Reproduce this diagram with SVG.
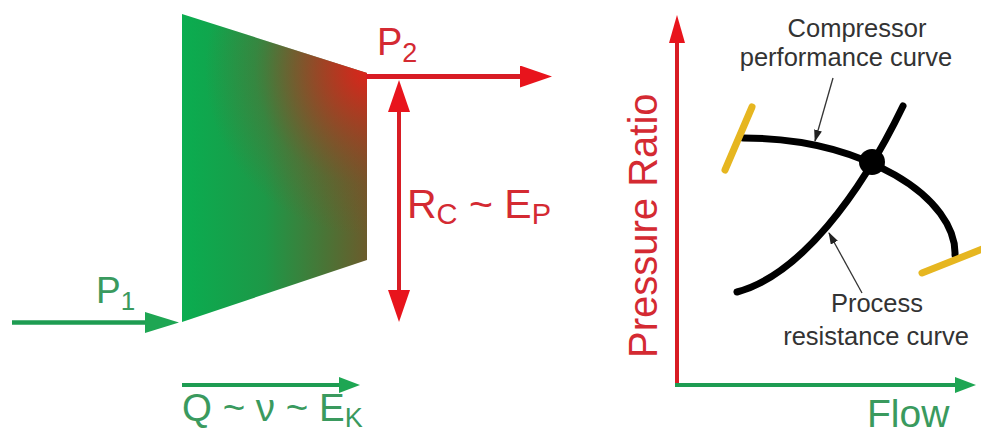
<svg xmlns="http://www.w3.org/2000/svg" width="981" height="434" viewBox="0 0 981 434">
<style>
.lbl{font-family:"Liberation Sans",Arial,sans-serif}
.g{fill:#3a9a5e}
.r{fill:#d42a32}
.k{fill:#333333;font-size:25.5px}
.gl{stroke:#1e9c52;fill:none}
.rl{stroke:#d81c24;fill:none}
.curve{stroke:#000;stroke-width:7;fill:none;stroke-linecap:round}
.ybar{stroke:#e6b620;stroke-width:7;stroke-linecap:round}
.lead{stroke:#333;stroke-width:1.3;fill:none}
</style>
<defs>
<linearGradient id="gbase" gradientUnits="userSpaceOnUse" x1="182" y1="0" x2="366" y2="0">
<stop offset="0" stop-color="#0aad50"/>
<stop offset="0.45" stop-color="#1d9847"/>
<stop offset="0.78" stop-color="#4a7436"/>
<stop offset="1" stop-color="#6a5c2c"/>
</linearGradient>
<radialGradient id="gred" gradientUnits="userSpaceOnUse" cx="370" cy="70" r="165">
<stop offset="0" stop-color="#e0221a" stop-opacity="1"/>
<stop offset="0.3" stop-color="#c0301e" stop-opacity="0.7"/>
<stop offset="0.7" stop-color="#a03a22" stop-opacity="0.2"/>
<stop offset="1" stop-color="#a03a22" stop-opacity="0"/>
</radialGradient>
<marker id="agL" viewBox="0 0 34 21" refX="24" refY="10.5" markerWidth="34" markerHeight="21" markerUnits="userSpaceOnUse" orient="auto"><path d="M0,0 L34,10.5 L0,21 z" fill="#1ea653"/></marker>
<marker id="agS" viewBox="0 0 21 16" refX="13" refY="8" markerWidth="21" markerHeight="16" markerUnits="userSpaceOnUse" orient="auto"><path d="M0,0 L21,8 L0,16 z" fill="#1ea653"/></marker>
<marker id="arL" viewBox="0 0 32 22" refX="22" refY="11" markerWidth="32" markerHeight="22" markerUnits="userSpaceOnUse" orient="auto-start-reverse"><path d="M0,0 L32,11 L0,22 z" fill="#e8141c"/></marker>
<marker id="arY" viewBox="0 0 28 16" refX="18" refY="8" markerWidth="28" markerHeight="16" markerUnits="userSpaceOnUse" orient="auto"><path d="M0,0 L28,8 L0,16 z" fill="#e8141c"/></marker>
<marker id="ak" viewBox="0 0 12 8" refX="11" refY="4" markerWidth="12" markerHeight="8" markerUnits="userSpaceOnUse" orient="auto"><path d="M0,0 L12,4 L0,8 z" fill="#222"/></marker>
</defs>
<rect width="981" height="434" fill="#fff"/>

<g id="compressor">
<polygon points="182,14 367,73 367,260 182,322" fill="url(#gbase)"/>
<polygon points="182,14 367,73 367,260 182,322" fill="url(#gred)"/>
</g>

<g id="connectors">
<line class="gl" x1="12" y1="322.5" x2="169" y2="322.5" stroke-width="4.5" marker-end="url(#agL)"/>
<line class="gl" x1="182" y1="385" x2="352" y2="385" stroke-width="4" marker-end="url(#agS)"/>
<line class="rl" x1="366" y1="76.5" x2="542" y2="76.5" stroke-width="5" marker-end="url(#arL)"/>
<line class="rl" x1="399" y1="90" x2="399" y2="312" stroke-width="4" marker-start="url(#arL)" marker-end="url(#arL)"/>
<line class="rl" x1="677" y1="387" x2="677" y2="25" stroke-width="4" marker-end="url(#arY)"/>
<line class="gl" x1="675" y1="385" x2="968" y2="385" stroke-width="4" marker-end="url(#agS)"/>
</g>

<g id="labels-left" class="lbl">
<text class="g" x="96" y="303" font-size="37">P<tspan font-size="26" dy="7">1</tspan></text>
<text class="r" x="377" y="55" font-size="38">P<tspan font-size="27" dy="7">2</tspan></text>
<text class="r" x="407" y="218" font-size="41">R<tspan font-size="29" dy="6">C</tspan><tspan dy="-6"> ~ E</tspan><tspan font-size="29" dy="6">P</tspan></text>
<text class="g" x="182" y="421" font-size="38.5">Q ~ ν ~ E<tspan font-size="27" dy="6">K</tspan></text>
</g>

<g id="chart" class="lbl">
<text class="r" transform="translate(657,358) rotate(-90)" font-size="40">Pressure Ratio</text>
<text class="g" x="867" y="427" font-size="39">Flow</text>
<path id="performance-curve" class="curve" d="M743,138 C810,138 860,155 895,175 C935,198 956,228 955,255"/>
<path id="resistance-curve" class="curve" d="M737,292 C800,275 860,195 903,106"/>
<circle id="operating-point" cx="872" cy="162" r="13" fill="#000"/>
<line class="ybar" x1="752" y1="107" x2="725" y2="170"/>
<line class="ybar" x1="922" y1="273" x2="990" y2="246"/>
<g id="label-compressor">
<text class="k" x="857" y="37" text-anchor="middle">Compressor</text>
<text class="k" x="846" y="66" text-anchor="middle">performance curve</text>
<line class="lead" x1="833" y1="78" x2="815" y2="141" marker-end="url(#ak)"/>
</g>
<g id="label-process">
<text class="k" x="877" y="312" text-anchor="middle">Process</text>
<text class="k" x="876" y="345" text-anchor="middle">resistance curve</text>
<line class="lead" x1="862" y1="293" x2="829" y2="233" marker-end="url(#ak)"/>
</g>
</g>
</svg>
